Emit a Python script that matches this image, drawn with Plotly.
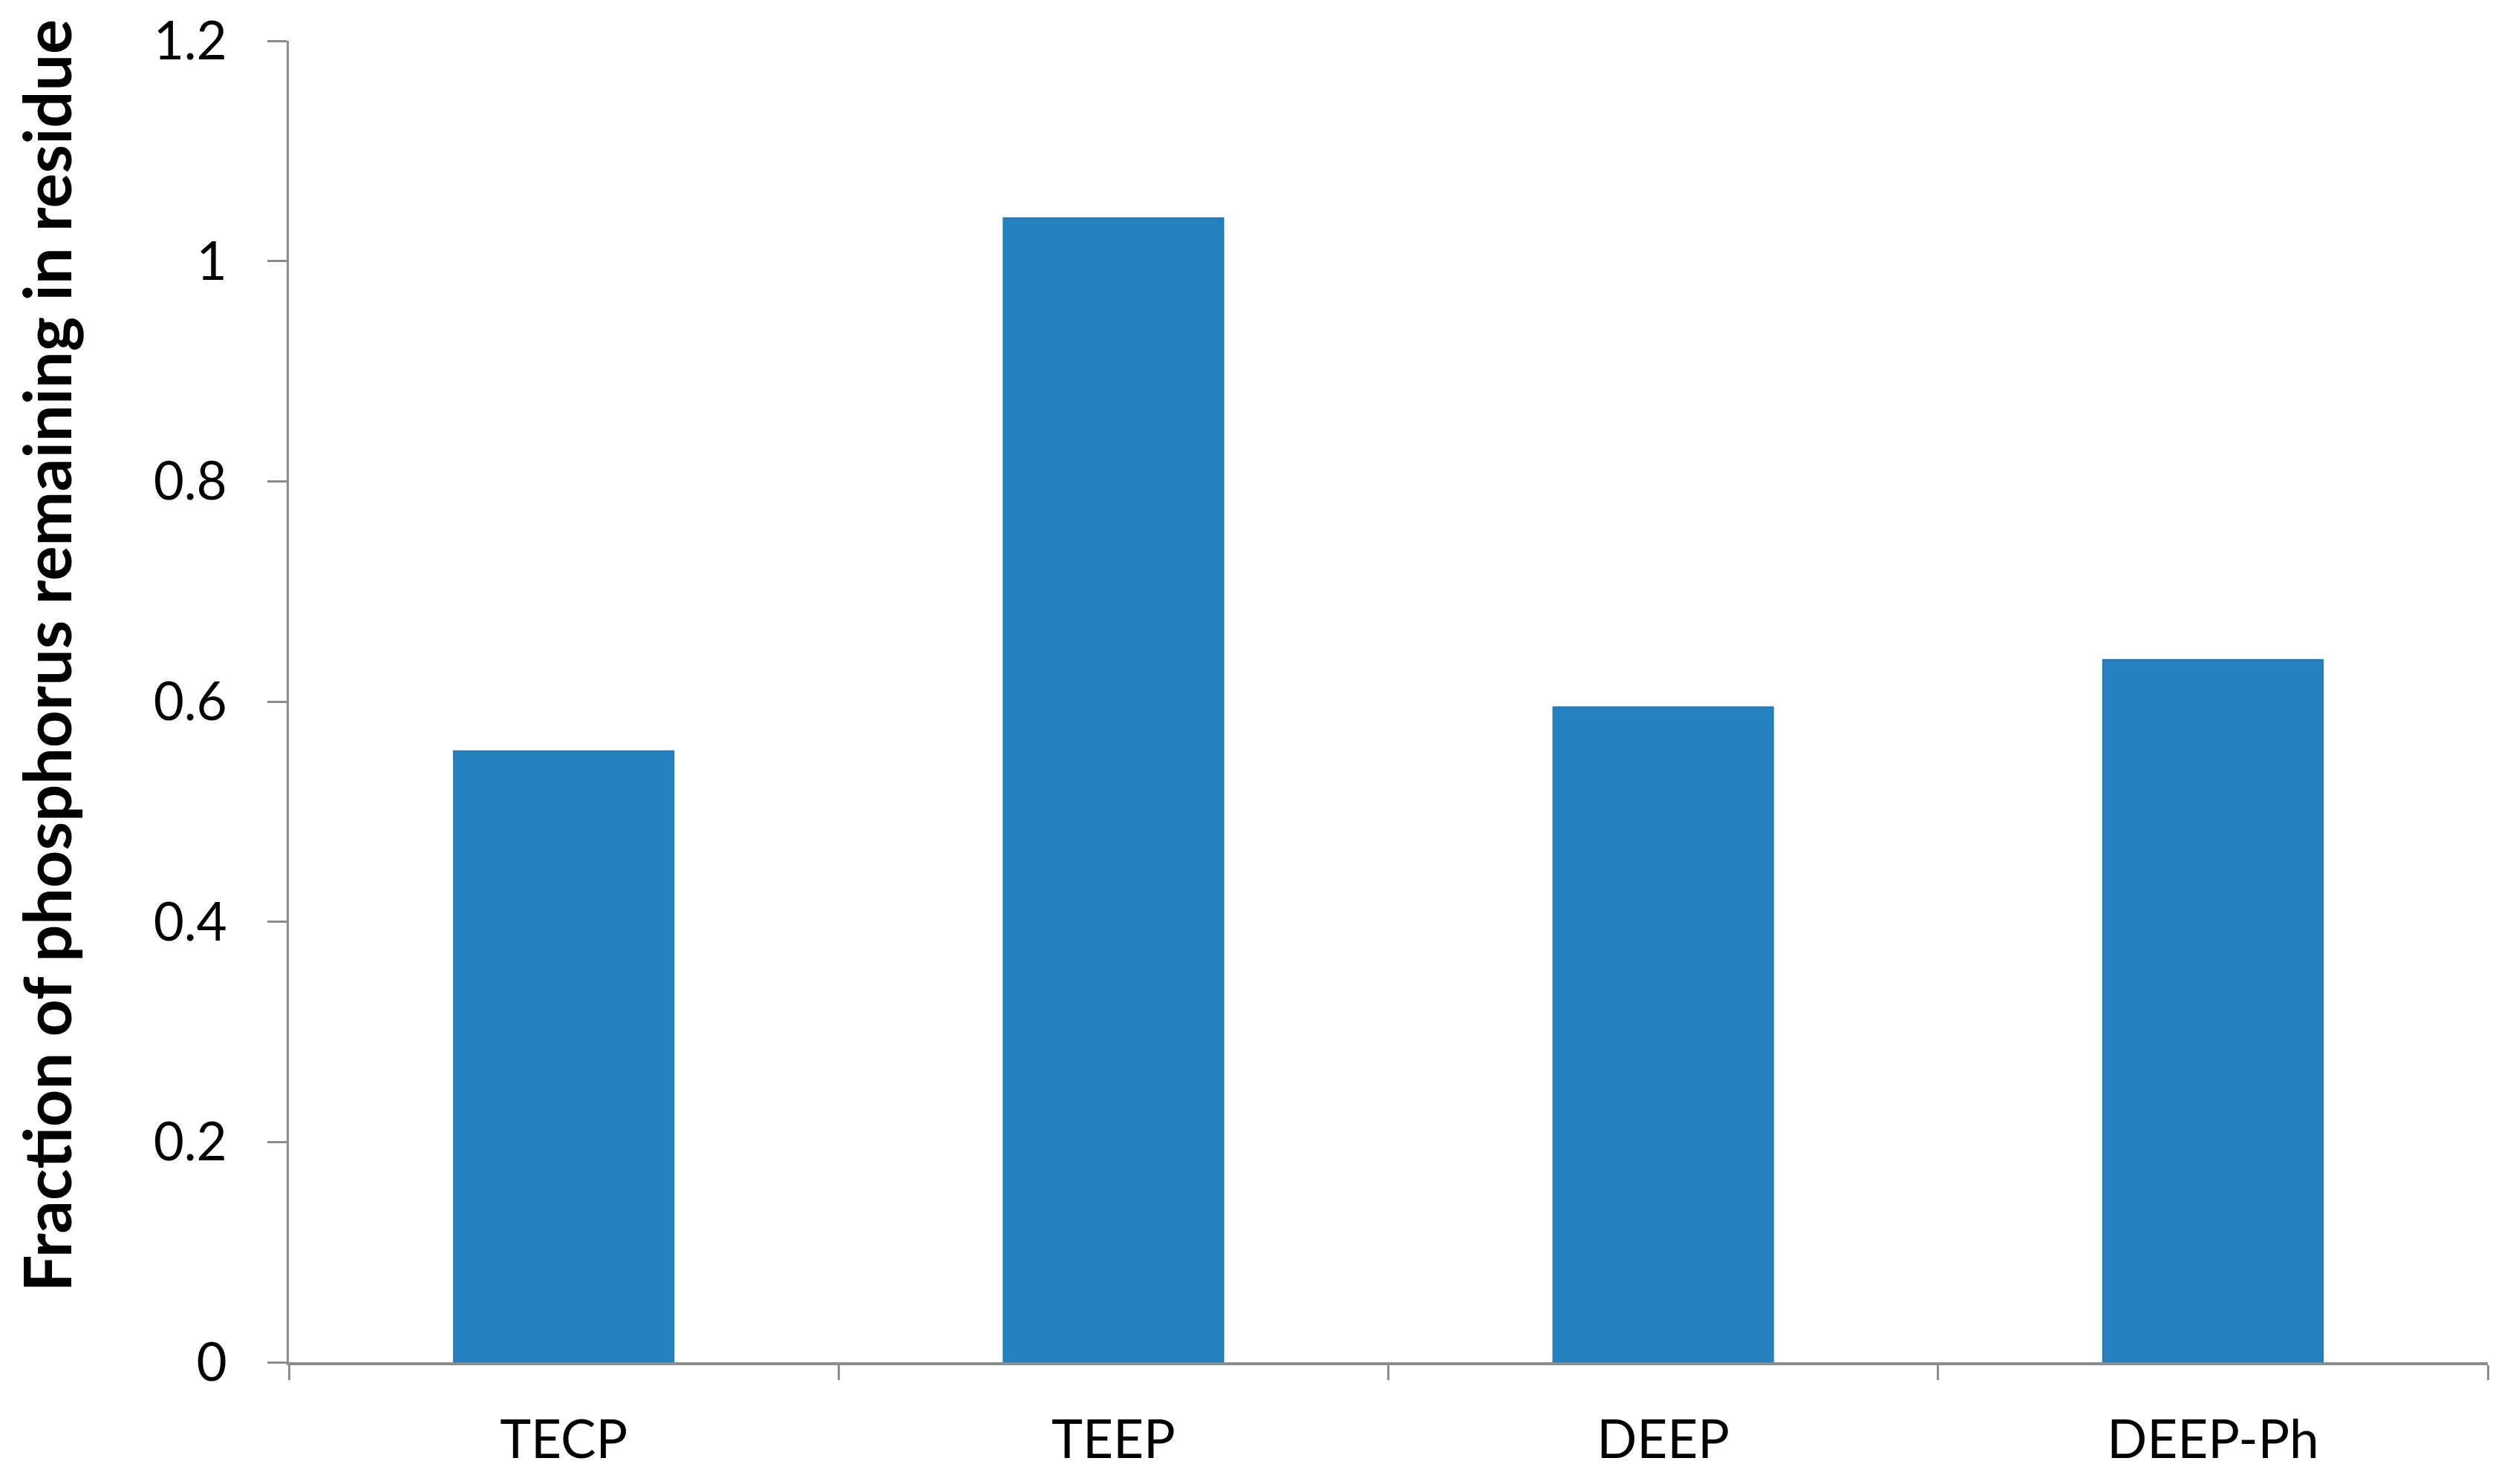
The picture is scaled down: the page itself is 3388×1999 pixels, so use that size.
import plotly.graph_objects as go

categories = ["TECP", "TEEP", "DEEP", "DEEP-Ph"]
values = [0.555, 1.039, 0.595, 0.638]
y_ticks = [0, 0.2, 0.4, 0.6, 0.8, 1, 1.2]
y_title = "Fraction of phosphorus remaining in residue"

fig = go.Figure(go.Bar(
    x=categories, y=values,
    marker=dict(color="#2681c0", line=dict(color="#1f78b8", width=2)),
    width=0.4,
))

fig.update_layout(
    width=3388, height=1999,
    margin=dict(l=381, r=46, t=47, b=172, autoexpand=False),
    paper_bgcolor="white", plot_bgcolor="white",
    font=dict(family="Lato", color="black"),
    showlegend=False,
    annotations=[dict(
        text=y_title, textangle=-90, showarrow=False,
        xref="paper", yref="paper", x=-0.1104, y=0.5348,
        xanchor="center", yanchor="middle",
        font=dict(size=88, family="Lato", weight="bold", color="black"),
    )],
)
fig.update_yaxes(
    range=[0, 1.2], tickvals=y_ticks, ticktext=[str(v) for v in y_ticks],
    showgrid=False, zeroline=False, automargin=False,
    showline=True, linecolor="#8c8c8c", linewidth=3,
    ticks="outside", ticklen=26, tickwidth=3, tickcolor="#8c8c8c",
    tickfont=dict(size=71), ticklabelstandoff=40,
)
fig.update_xaxes(
    showgrid=False, automargin=False,
    showline=True, linecolor="#8c8c8c", linewidth=4,
    ticks="outside", tickson="boundaries", ticklen=20, tickwidth=3, tickcolor="#8c8c8c",
    tickfont=dict(size=71), ticklabelstandoff=40,
)

fig.write_html("out.html")
